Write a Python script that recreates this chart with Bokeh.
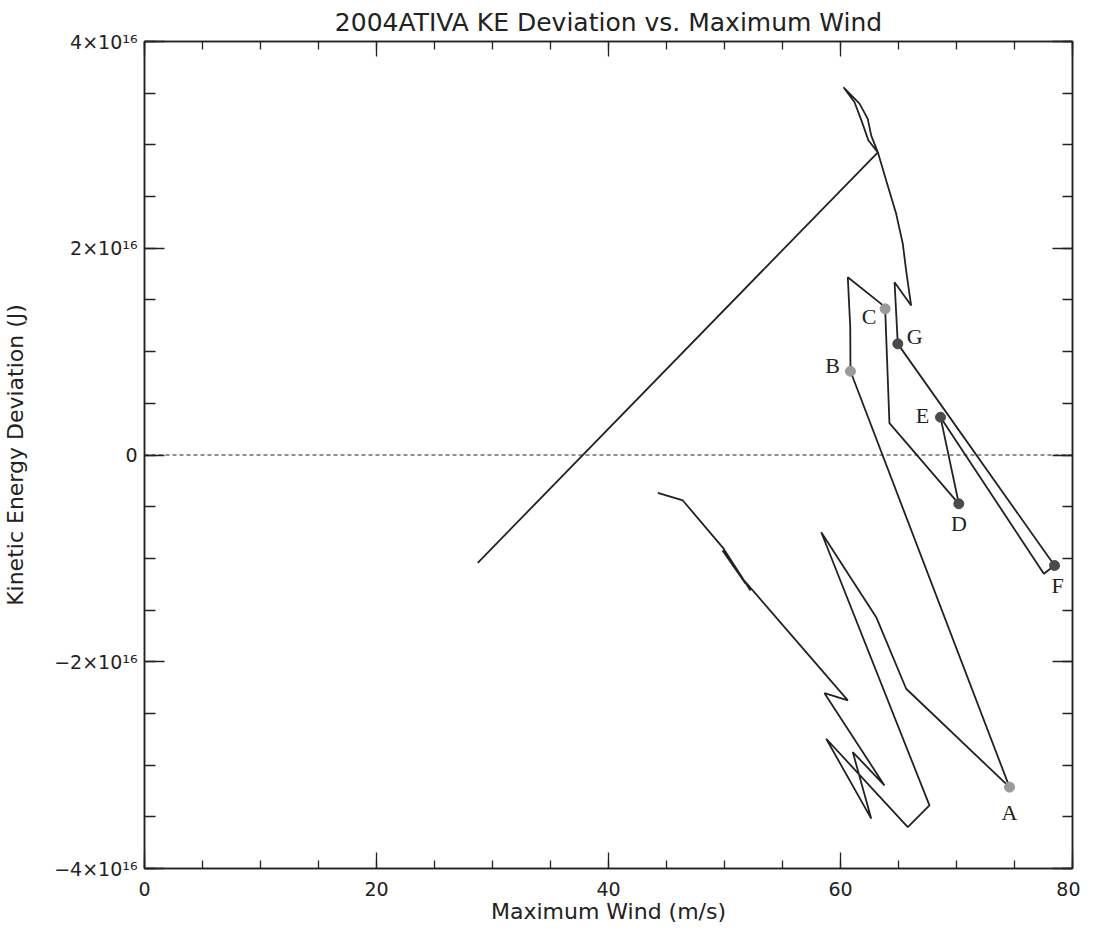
from bokeh.plotting import figure
from bokeh.models import (FixedTicker, LinearAxis, Span, ColumnDataSource, Range1d)
from bokeh.embed import file_html
from bokeh.resources import INLINE
from bokeh.core.properties import value

# ---- data (Kinetic energy deviation in units of 1e16 J) ----
wind = [44.25, 46.41, 49.91, 52.24, 50.17, 51.81, 49.83, 51.47, 60.63, 58.62,
        63.79, 61.06, 62.65, 58.77, 65.80, 67.67, 58.34, 63.08, 65.66, 74.57,
        60.86, 60.84, 60.63, 63.51, 63.85, 64.22, 70.20, 68.62, 77.53, 78.45,
        64.94, 64.66, 66.09, 65.66, 65.37, 64.80, 63.94, 63.22, 62.65, 62.35,
        61.64, 60.26, 61.21, 61.81, 62.41, 63.22, 28.73]
ke_dev = [-0.366, -0.440, -0.904, -1.310, -0.953, -1.243, -0.924, -1.185, -2.374, -2.304,
          -3.196, -2.874, -3.518, -2.745, -3.600, -3.390, -0.747, -1.569, -2.261, -3.213,
          0.810, 1.236, 1.720, 1.462, 1.414, 0.308, -0.472, 0.366, -1.149, -1.069,
          1.075, 1.671, 1.446, 1.784, 2.043, 2.333, 2.655, 2.928, 3.090, 3.251,
          3.399, 3.557, 3.412, 3.235, 3.042, 2.928, -1.043]

mark_labels = ["A", "B", "C", "D", "E", "F", "G"]
mark_wind = [74.57, 60.86, 63.85, 70.20, 68.62, 78.45, 64.94]
mark_ke = [-3.213, 0.810, 1.414, -0.472, 0.366, -1.069, 1.075]

x_ticks = [0, 20, 40, 60, 80]
x_minor = list(range(0, 81, 5))
y_ticks = [-4, -2, 0, 2, 4]
y_tick_labels = ["\u22124\u00d710\u00b9\u2076", "\u22122\u00d710\u00b9\u2076", "0",
                 "2\u00d710\u00b9\u2076", "4\u00d710\u00b9\u2076"]
y_minor = [v * 0.5 for v in range(-8, 9)]

# ---- styles ----
mark_colors = ["#9a9a9a", "#9a9a9a", "#9a9a9a", "#4a4a4a", "#4a4a4a", "#4a4a4a", "#4a4a4a"]
label_dx = [0, -18, -16, 0, -18, 3, 17]
label_dy = [25, -6, 8, 20, -2, 20, -7]
FONT = "DejaVu Sans"
INK = "#222222"

p = figure(frame_width=928, frame_height=827,
           x_range=Range1d(0, 80), y_range=Range1d(-4, 4),
           output_backend="svg", toolbar_location=None,
           x_axis_location=None, y_axis_location=None,
           min_border_left=137, min_border_top=33, min_border_right=8, min_border_bottom=30)
p.grid.visible = False
p.outline_line_color = INK
p.outline_line_width = 1.5
p.background_fill_color = "white"
p.border_fill_color = "white"

p.title.text = "2004ATIVA KE Deviation vs. Maximum Wind"
p.title.align = "center"
p.title.text_font = FONT
p.title.text_font_style = "normal"
p.title.text_font_size = "25px"
p.title.text_color = INK
p.title.standoff = 10


def style(ax, major, minor, labels=True):
    ax.axis_line_color = INK
    ax.axis_line_width = 1.5
    ax.major_tick_line_color = INK
    ax.minor_tick_line_color = INK
    ax.major_tick_line_width = 1.3
    ax.minor_tick_line_width = 1.3
    ax.major_tick_in = major
    ax.major_tick_out = 0
    ax.minor_tick_in = minor
    ax.minor_tick_out = 0
    ax.major_label_text_font = FONT
    ax.major_label_text_color = INK
    ax.axis_label_text_font = FONT
    ax.axis_label_text_font_style = "normal"
    ax.axis_label_text_color = INK
    if labels:
        ax.major_label_text_font_size = "19px"
        ax.axis_label_text_font_size = "22px"
    else:
        ax.major_label_text_font_size = "0px"
        ax.major_label_text_color = None
        ax.major_label_standoff = 0


xb = LinearAxis(ticker=FixedTicker(ticks=x_ticks, minor_ticks=x_minor),
                axis_label="Maximum Wind (m/s)")
style(xb, 16, 8)
xb.major_label_standoff = 13
xb.axis_label_standoff = 0
p.add_layout(xb, "below")

xt = LinearAxis(ticker=FixedTicker(ticks=x_ticks, minor_ticks=x_minor))
style(xt, 15, 8, labels=False)
p.add_layout(xt, "above")

yl = LinearAxis(ticker=FixedTicker(ticks=y_ticks, minor_ticks=y_minor),
                axis_label="Kinetic Energy Deviation (J)")
style(yl, 20, 11)
yl.major_label_overrides = {t: s for t, s in zip(y_ticks, y_tick_labels)}
yl.major_label_standoff = 7
yl.axis_label_standoff = 23
p.add_layout(yl, "left")

yr = LinearAxis(ticker=FixedTicker(ticks=y_ticks, minor_ticks=y_minor))
style(yr, 20, 10, labels=False)
p.add_layout(yr, "right")

p.add_layout(Span(location=0, dimension="width", line_color=INK,
                  line_width=1.2, line_dash="4 3"))

p.line(wind, ke_dev, line_color=INK, line_width=1.8)

src = ColumnDataSource(dict(x=mark_wind, y=mark_ke, t=mark_labels, c=mark_colors,
                            dx=label_dx, dy=label_dy))
p.scatter("x", "y", source=src, size=10, fill_color="c", line_color="c")
p.text("x", "y", text="t", source=src, x_offset="dx", y_offset="dy",
       text_align="center", text_baseline="middle",
       text_font=value("Liberation Serif"), text_font_size="22px",
       text_color=INK)

open("out.html", "w").write(file_html(p, INLINE))
